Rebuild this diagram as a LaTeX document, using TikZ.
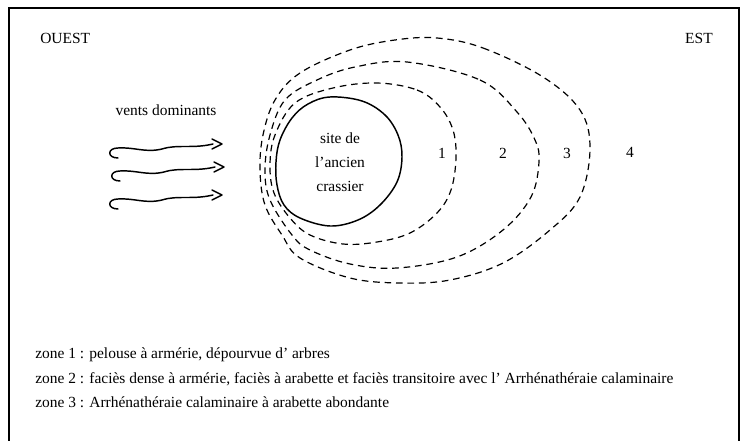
\documentclass[tikz,border=0pt]{standalone}
\usepackage{fontspec}
\setmainfont{Liberation Serif}
\tikzset{
  frameline/.style={line width=1.5pt},
  zoneline/.style={line width=0.9pt, dash pattern=on 5pt off 3.6pt},
  siteline/.style={line width=1.1pt},
  windline/.style={line width=1.1pt, line cap=round, line join=round},
  txt/.style={inner sep=0pt, font=\fontsize{11.6}{14}\selectfont},
  wind/.pic={
    \draw[windline] (8,11) .. controls (-3,11) and (-3,1) .. (8,1)
      .. controls (25,0) and (35,6) .. (52,2)
      .. controls (68,-3) and (82,2) .. (103,-3);
    \draw[windline] (102,-8) -- (112,-3) -- (102,2);
  }
}
\begin{document}
\begin{tikzpicture}[x=0.75pt,y=-0.75pt]
\useasboundingbox (0,0) rectangle (746,441);
\fill[white] (0,0) rectangle (746,441);
\draw[frameline] (9,445) -- (9,8) -- (739,8) -- (739,445);

\node[txt, anchor=base west] (ouest) at (40,44) {OUEST};
\node[txt, anchor=base east] (est) at (713,44) {EST};
\node[txt, anchor=base] (vents) at (166,116) {vents dominants};

\pic at (110,147) {wind};
\pic at (112,170) {wind};
\pic at (110,198) {wind};

% zones
\draw[zoneline] plot[smooth cycle, tension=0.6] coordinates {
 (437,38) (483,48) (543,77) (580,110) (590,148) (580,197) (550,230) (503,263)
 (450,280) (400,283) (350,278) (300,258) (282,235) (265,205) (260,170) (263,135)
 (275,100) (300,73) (350,50) (395,40)};
\draw[zoneline] plot[smooth cycle, tension=0.6] coordinates {
 (407,62) (480,80) (517,112) (535,140) (539,162) (531,197) (503,230) (457,257)
 (397,268) (350,264) (310,250) (292,235) (270,200) (265,170) (270,135) (285,100)
 (317,80) (355,67)};
\draw[zoneline] plot[smooth cycle, tension=0.6] coordinates {
 (377,83) (417,90) (440,107) (453,130) (456,158) (451,190) (437,213) (410,233)
 (377,242) (343,244) (310,235) (290,218) (274,193) (270,165) (275,135) (295,103)
 (333,88)};
% site
\draw[siteline] plot[smooth cycle, tension=0.6] coordinates {
 (330,97) (362,101) (385,115) (398,135) (402,157) (397,182) (380,205) (358,220)
 (330,226) (300,218) (284,205) (277,185) (276,162) (280,140) (292,118) (308,104)};

\node[txt, align=center, font=\fontsize{11.6}{18}\selectfont] (site) at (340,162) {site de\\l’ancien\\crassier};

\node[txt, anchor=base] (z1) at (442,159) {1};
\node[txt, anchor=base] (z2) at (503,159) {2};
\node[txt, anchor=base] (z3) at (567,159) {3};
\node[txt, anchor=base] (z4) at (630,158) {4};

\node[txt, anchor=base west] (l1) at (35,359) {zone 1 : pelouse à armérie, dépourvue d’ arbres};
\node[txt, anchor=base west] (l2) at (35,383) {zone 2 : faciès dense à armérie, faciès à arabette et faciès transitoire avec l’ Arrhénathéraie calaminaire};
\node[txt, anchor=base west] (l3) at (35,407) {zone 3 : Arrhénathéraie calaminaire à arabette abondante};
\end{tikzpicture}
\end{document}
